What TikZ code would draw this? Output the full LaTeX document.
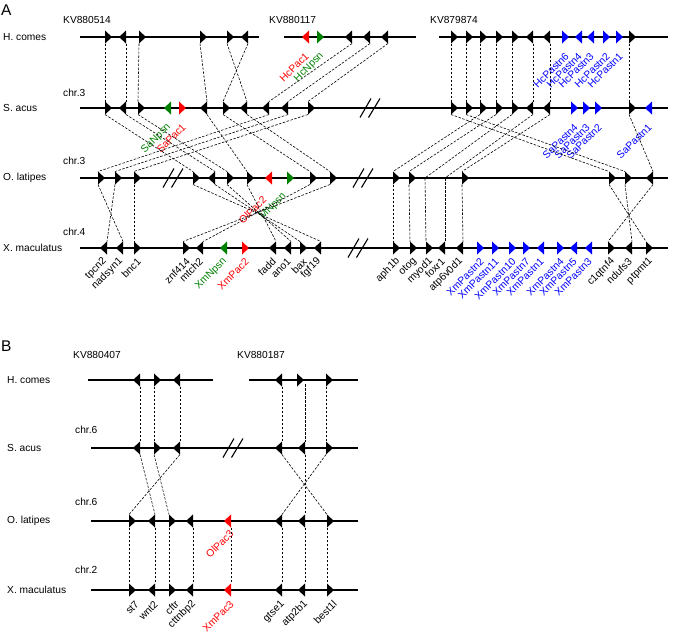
\documentclass[tikz,border=0pt]{standalone}
\usepackage{fontspec}
\setmainfont{Liberation Sans}
\usetikzlibrary{calc}
\definecolor{cred}{RGB}{255,0,0}
\definecolor{cgreen}{RGB}{0,128,0}
\definecolor{cblue}{RGB}{0,0,255}
\tikzset{
  chrom/.style={line width=1.3pt},
  conn/.style={line width=0.6pt, dash pattern=on 2.5pt off 1.5pt},
  glab/.style={rotate=45, anchor=east, inner sep=0.5pt, font=\fontsize{10.3}{12}\selectfont},
  txt/.style={anchor=west, inner sep=0pt, font=\fontsize{10.2}{12}\selectfont},
  brkline/.style={line width=1.1pt},
}
\newcommand\gR[4]{\coordinate (#1) at (#2,#3); \fill[#4] (#1) ++(0,-6.5) -- ++(0,13) -- ++(7,-6.5) -- cycle;}
\newcommand\gL[4]{\coordinate (#1) at (#2,#3); \fill[#4] (#1) ++(0,-6.5) -- ++(0,13) -- ++(-7,-6.5) -- cycle;}
\newcommand\cn[2]{\draw[conn] ($(#1)+(0,6.5)$) -- ($(#2)+(0,-6.5)$);}
\newcommand\lab[5]{\node[glab,text=#5] (t-#1) at ($(#1)+(#2,#3)$) {#4};}
\newcommand\brk[2]{\draw[brkline] (#1-10,#2+9.5) -- (#1+1,#2-9.5) (#1-1.5,#2+9.5) -- (#1+10,#2-9.5);}
\begin{document}
\begin{tikzpicture}[x=1pt,y=-1pt]
\useasboundingbox (0,0) rectangle (677,633);
% ================= Panel A =================
\node[txt,font=\fontsize{15.5}{17}\selectfont] (pA) at (1,10) {A};
\node[txt] (spHA) at (3,37) {H. comes};
\node[txt] (spSA) at (3,108) {S. acus};
\node[txt] (spOA) at (3,178) {O. latipes};
\node[txt] (spXA) at (3,248) {X. maculatus};
\node[txt] (kv1) at (63,20) {KV880514};
\node[txt] (kv2) at (269,20) {KV880117};
\node[txt] (kv3) at (430,20) {KV879874};
\node[txt] (chSA) at (63,93) {chr.3};
\node[txt] (chOA) at (63,161) {chr.3};
\node[txt] (chXA) at (63,232) {chr.4};
% rows
\draw[chrom] (80,37) -- (259,37) (284,37) -- (416,37) (439,37) -- (668,37);
\draw[chrom] (80,108) -- (668,108);
\draw[chrom] (80,178) -- (668,178);
\draw[chrom] (80,248) -- (668,248);
\brk{370}{108}
\brk{173}{178}
\brk{363}{178}
\brk{358}{248}
% H. comes genes
\gR{hA1}{105}{37}{black}
\gL{hA2}{126}{37}{black}
\gR{hA3}{139}{37}{black}
\gR{hA4}{200}{37}{black}
\gR{hA5}{227}{37}{black}
\gL{hA6}{248}{37}{black}
\gL{hA7}{309}{37}{cred}
\gR{hA8}{317}{37}{cgreen}
\gL{hA9}{352}{37}{black}
\gL{hA10}{370}{37}{black}
\gL{hA11}{388}{37}{black}
\gR{hA12}{451}{37}{black}
\gR{hA13}{466}{37}{black}
\gR{hA14}{480}{37}{black}
\gR{hA15}{496}{37}{black}
\gR{hA16}{512}{37}{black}
\gL{hA17}{533}{37}{black}
\gL{hA18}{550}{37}{black}
\gR{hA19}{562}{37}{cblue}
\gL{hA20}{582}{37}{cblue}
\gL{hA21}{594}{37}{cblue}
\gR{hA22}{603}{37}{cblue}
\gR{hA23}{616}{37}{cblue}
\gR{hA24}{629}{37}{black}
\lab{hA7}{-1.5}{17}{HcPac1}{cred}
\lab{hA8}{5.5}{17}{HcNpsn}{cgreen}
\lab{hA19}{5.5}{17}{HcPastn6}{cblue}
\lab{hA20}{-1.5}{17}{HcPastn4}{cblue}
\lab{hA21}{-1.5}{17}{HcPastn3}{cblue}
\lab{hA22}{5.5}{17}{HcPastn2}{cblue}
\lab{hA23}{5.5}{17}{HcPastn1}{cblue}
% S. acus genes
\gR{sA1}{105}{108}{black}
\gL{sA2}{126}{108}{black}
\gR{sA3}{138}{108}{black}
\gL{sA4}{171}{108}{cgreen}
\gR{sA5}{179}{108}{cred}
\gL{sA6}{207}{108}{black}
\gR{sA7}{223}{108}{black}
\gL{sA8}{247}{108}{black}
\gL{sA9}{269}{108}{black}
\gL{sA10}{288}{108}{black}
\gR{sA11}{308}{108}{black}
\gR{sA12}{451}{108}{black}
\gR{sA13}{466}{108}{black}
\gR{sA14}{480}{108}{black}
\gR{sA15}{496}{108}{black}
\gR{sA16}{512}{108}{black}
\gL{sA17}{533}{108}{black}
\gL{sA18}{550}{108}{black}
\gR{sA19}{571}{108}{cblue}
\gR{sA20}{583}{108}{cblue}
\gR{sA21}{595}{108}{cblue}
\gR{sA22}{629}{108}{black}
\gL{sA23}{652}{108}{cblue}
\lab{sA4}{-1.5}{17}{SaNpsn}{cgreen}
\lab{sA5}{5.5}{17}{SaPac1}{cred}
\lab{sA19}{5.5}{17}{SaPastn4}{cblue}
\lab{sA20}{5.5}{17}{SaPastn3}{cblue}
\lab{sA21}{5.5}{17}{SaPastn2}{cblue}
\lab{sA23}{-1.5}{17}{SaPastn1}{cblue}
% O. latipes genes
\gR{oA1}{98}{178}{black}
\gR{oA2}{115}{178}{black}
\gR{oA3}{134}{178}{black}
\gR{oA4}{193}{178}{black}
\gL{oA5}{215}{178}{black}
\gR{oA6}{227}{178}{black}
\gR{oA7}{247}{178}{black}
\gL{oA8}{272}{178}{cred}
\gR{oA9}{287}{178}{cgreen}
\gR{oA10}{310}{178}{black}
\gR{oA11}{330}{178}{black}
\gR{oA12}{393}{178}{black}
\gR{oA13}{409}{178}{black}
\coordinate (oA14) at (425,178);
\coordinate (oA15) at (445,178);
\gR{oA16}{462}{178}{black}
\gR{oA17}{609}{178}{black}
\gR{oA18}{625}{178}{black}
\gL{oA19}{653}{178}{black}
\lab{oA8}{-7}{19.5}{OlPac2}{cred}
\lab{oA9}{-2}{16.5}{MNpsn}{cgreen}
% X. maculatus genes
\gL{tpcn2}{107}{248}{black}
\gL{nadsyn1}{123}{248}{black}
\gR{bnc1}{134}{248}{black}
\gR{znf414}{183}{248}{black}
\gL{mtch2}{203}{248}{black}
\gL{XmNpsn}{227}{248}{cgreen}
\gR{XmPac2}{242}{248}{cred}
\gL{fadd}{276}{248}{black}
\gL{ano1}{291}{248}{black}
\gR{bax}{300}{248}{black}
\gL{fgf19}{321}{248}{black}
\gR{aph1b}{393}{248}{black}
\gR{otog}{410}{248}{black}
\gR{myod1}{426}{248}{black}
\gL{foxr1}{445}{248}{black}
\gL{atp6v0d1}{463}{248}{black}
\gR{XmPastn2}{477}{248}{cblue}
\gR{XmPastn11}{492}{248}{cblue}
\gR{XmPastn10}{509}{248}{cblue}
\gR{XmPastn7}{523}{248}{cblue}
\gL{XmPastn1}{544}{248}{cblue}
\gR{XmPastn4}{557}{248}{cblue}
\gL{XmPastn5}{577}{248}{cblue}
\gL{XmPastn3}{592}{248}{cblue}
\gR{c1qtnf4}{608}{248}{black}
\gL{ndufs3}{632}{248}{black}
\gR{ptpmt1}{646}{248}{black}
\lab{tpcn2}{-1.5}{11.5}{tpcn2}{black}
\lab{nadsyn1}{-1.5}{11.5}{nadsyn1}{black}
\lab{bnc1}{5.5}{11.5}{bnc1}{black}
\lab{znf414}{5.5}{11.5}{znf414}{black}
\lab{mtch2}{-1.5}{11.5}{mtch2}{black}
\lab{XmNpsn}{-1.5}{11.5}{XmNpsn}{cgreen}
\lab{XmPac2}{5.5}{11.5}{XmPac2}{cred}
\lab{fadd}{-1.5}{11.5}{fadd}{black}
\lab{ano1}{-1.5}{11.5}{ano1}{black}
\lab{bax}{5.5}{11.5}{bax}{black}
\lab{fgf19}{-1.5}{11.5}{fgf19}{black}
\lab{aph1b}{5.5}{11.5}{aph1b}{black}
\lab{otog}{5.5}{11.5}{otog}{black}
\lab{myod1}{5.5}{11.5}{myod1}{black}
\lab{foxr1}{-1.5}{11.5}{foxr1}{black}
\lab{atp6v0d1}{-1.5}{11.5}{atp6v0d1}{black}
\lab{XmPastn2}{5.5}{11.5}{XmPastn2}{cblue}
\lab{XmPastn11}{5.5}{11.5}{XmPastn11}{cblue}
\lab{XmPastn10}{5.5}{11.5}{XmPastn10}{cblue}
\lab{XmPastn7}{5.5}{11.5}{XmPastn7}{cblue}
\lab{XmPastn1}{-1.5}{11.5}{XmPastn1}{cblue}
\lab{XmPastn4}{5.5}{11.5}{XmPastn4}{cblue}
\lab{XmPastn5}{-1.5}{11.5}{XmPastn5}{cblue}
\lab{XmPastn3}{-1.5}{11.5}{XmPastn3}{cblue}
\lab{c1qtnf4}{5.5}{11.5}{c1qtnf4}{black}
\lab{ndufs3}{-1.5}{11.5}{ndufs3}{black}
\lab{ptpmt1}{5.5}{11.5}{ptpmt1}{black}
% connectors H -> S
\cn{hA1}{sA1} \cn{hA2}{sA2} \cn{hA3}{sA3} \cn{hA4}{sA6}
\cn{hA5}{sA8} \cn{hA6}{sA7}
\cn{hA9}{sA9} \cn{hA10}{sA10} \cn{hA11}{sA11}
\cn{hA12}{sA12} \cn{hA13}{sA13} \cn{hA14}{sA14} \cn{hA15}{sA15}
\cn{hA16}{sA16} \cn{hA17}{sA17} \cn{hA18}{sA18} \cn{hA24}{sA22}
% S -> O
\cn{sA1}{oA4} \cn{sA2}{oA5} \cn{sA3}{oA6} \cn{sA6}{oA7}
\cn{sA7}{oA10} \cn{sA8}{oA11}
\cn{sA9}{oA1} \cn{sA10}{oA2} \cn{sA11}{oA3}
\cn{sA12}{oA17} \cn{sA13}{oA18}
\cn{sA14}{oA12} \cn{sA15}{oA13}
\draw[conn] ($(sA16)+(0,6.5)$) -- (oA14);
\draw[conn] ($(sA17)+(0,6.5)$) -- (oA15);
\cn{sA18}{oA16} \cn{sA22}{oA19}
% O -> X
\cn{oA1}{nadsyn1} \cn{oA2}{tpcn2} \cn{oA3}{bnc1}
\cn{oA4}{fgf19} \cn{oA5}{bax} \cn{oA6}{ano1} \cn{oA7}{fadd}
\cn{oA10}{mtch2} \cn{oA11}{znf414}
\cn{oA12}{aph1b} \cn{oA13}{otog}
\draw[conn] (oA14) -- ($(myod1)+(0,-6.5)$);
\draw[conn] (oA15) -- ($(foxr1)+(0,-6.5)$);
\cn{oA16}{atp6v0d1}
\cn{oA17}{ptpmt1} \cn{oA18}{ndufs3} \cn{oA19}{c1qtnf4}
% ================= Panel B =================
\node[txt,font=\fontsize{15.5}{17}\selectfont] (pB) at (1,346) {B};
\node[txt] (spHB) at (7,380) {H. comes};
\node[txt] (spSB) at (7,448) {S. acus};
\node[txt] (spOB) at (7,521) {O. latipes};
\node[txt] (spXB) at (7,590) {X. maculatus};
\node[txt] (kv4) at (73,355) {KV880407};
\node[txt] (kv5) at (237,355) {KV880187};
\node[txt] (chSB) at (75,430) {chr.6};
\node[txt] (chOB) at (75,502) {chr.6};
\node[txt] (chXB) at (75,570) {chr.2};
\draw[chrom] (88,380) -- (213,380) (249,380) -- (358,380);
\draw[chrom] (91,448) -- (358,448);
\draw[chrom] (91,521) -- (358,521);
\draw[chrom] (91,590) -- (358,590);
\brk{233}{448}
\gL{hB1}{140}{380}{black}
\gR{hB2}{154}{380}{black}
\gL{hB3}{180}{380}{black}
\gL{hB4}{282}{380}{black}
\gR{hB5}{297}{380}{black}
\gR{hB6}{326}{380}{black}
\gL{sB1}{140}{448}{black}
\gR{sB2}{154}{448}{black}
\gL{sB3}{180}{448}{black}
\gL{sB4}{282}{448}{black}
\gL{sB5}{305}{448}{black}
\gR{sB6}{326}{448}{black}
\gR{oB1}{129}{521}{black}
\gL{oB2}{155}{521}{black}
\gR{oB3}{169}{521}{black}
\gL{oB4}{193}{521}{black}
\gL{oB5}{231}{521}{cred}
\gL{oB6}{282}{521}{black}
\gL{oB7}{305}{521}{black}
\gR{oB8}{327}{521}{black}
\lab{oB5}{1}{10.5}{OlPac3}{cred}
\gR{st7}{129}{590}{black}
\gL{wnt2}{155}{590}{black}
\gR{cftr}{169}{590}{black}
\gL{cttnbp2}{193}{590}{black}
\gL{XmPac3}{231}{590}{cred}
\gL{gtse1}{282}{590}{black}
\gL{atp2b1}{305}{590}{black}
\gR{best1l}{327}{590}{black}
\lab{st7}{8.5}{12}{st7}{black}
\lab{wnt2}{1.5}{12}{wnt2}{black}
\lab{cftr}{8.5}{12}{cftr}{black}
\lab{cttnbp2}{1.5}{12}{cttnbp2}{black}
\lab{XmPac3}{1.5}{12}{XmPac3}{cred}
\lab{gtse1}{1.5}{12}{gtse1}{black}
\lab{atp2b1}{1.5}{12}{atp2b1}{black}
\lab{best1l}{8.5}{12}{best1l}{black}
% H -> S
\cn{hB1}{sB1} \cn{hB2}{sB2} \cn{hB3}{sB3} \cn{hB4}{sB4}
\draw[conn] ($(hB5)+(8,4)$) -- ($(sB5)+(0,-6.5)$);
\cn{hB6}{sB6}
% S -> O
\cn{sB1}{oB2} \cn{sB2}{oB3} \cn{sB3}{oB1}
\cn{sB4}{oB8} \cn{sB5}{oB7} \cn{sB6}{oB6}
% O -> X
\cn{oB1}{st7} \cn{oB2}{wnt2} \cn{oB3}{cftr} \cn{oB4}{cttnbp2}
\cn{oB5}{XmPac3} \cn{oB6}{gtse1} \cn{oB7}{atp2b1} \cn{oB8}{best1l}
\end{tikzpicture}
\end{document}
